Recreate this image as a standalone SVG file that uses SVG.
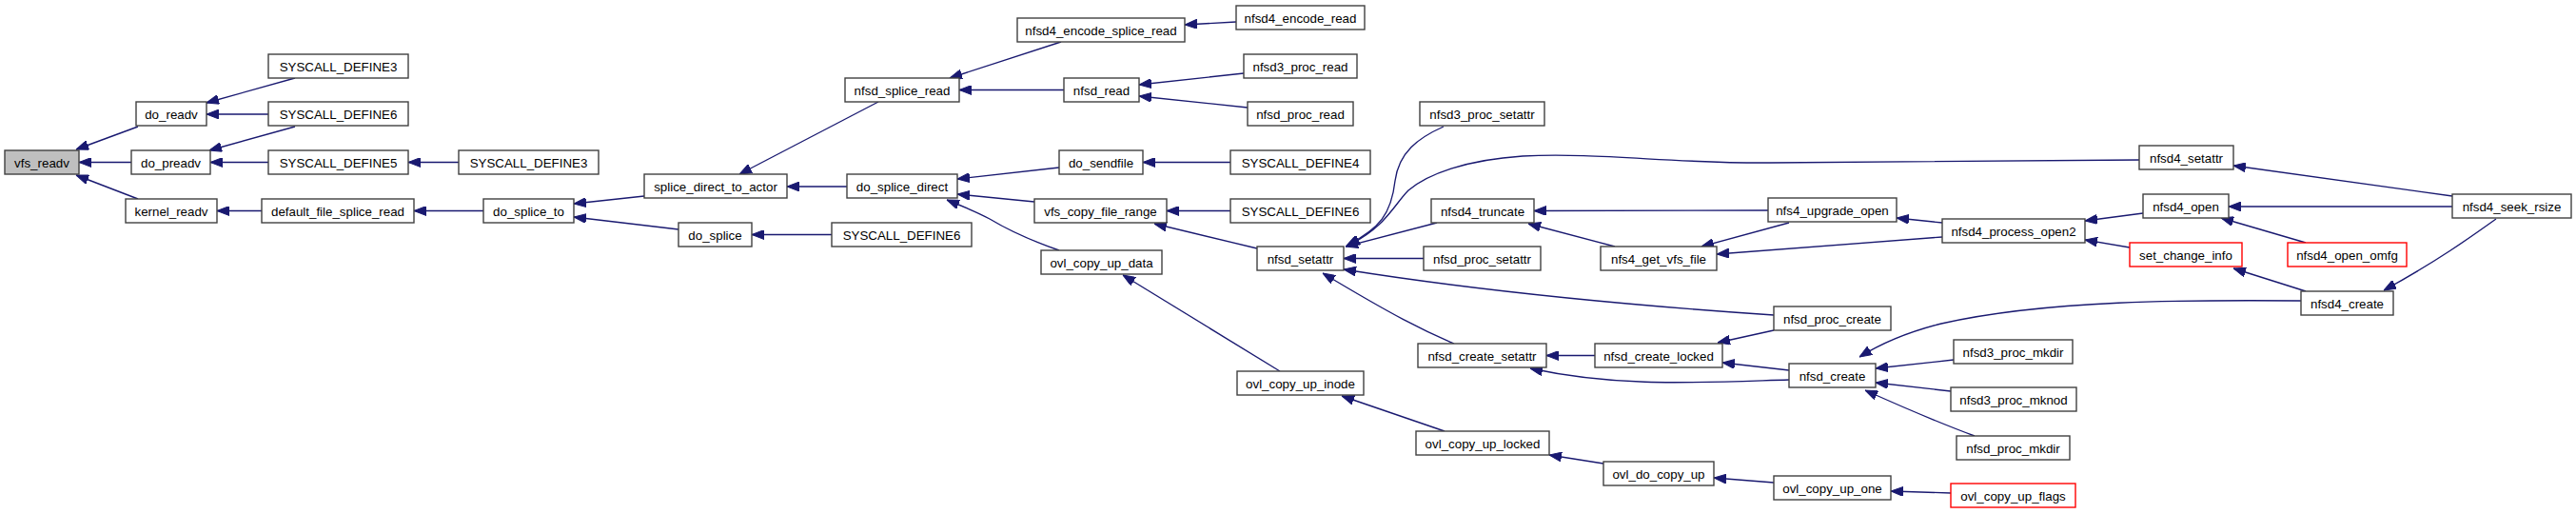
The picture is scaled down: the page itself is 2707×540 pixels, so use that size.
<svg xmlns="http://www.w3.org/2000/svg" width="2707" height="540" viewBox="0 0 2707 540">
<style>
.n rect{fill:#ffffff;stroke:#404040;stroke-width:1.4}
.n.root rect{fill:#bfbfbf}
.n.red rect{stroke:#ff0000}
.n text{font-family:"Liberation Sans",Arial,sans-serif;font-size:13.33px;fill:#000;text-anchor:middle}
#edges path{fill:none;stroke:#191970;stroke-width:1.35;marker-end:url(#ah)}
</style>
<defs>
<marker id="ah" viewBox="0 0 13 10" refX="13" refY="5" markerWidth="13" markerHeight="10" markerUnits="userSpaceOnUse" orient="auto">
<path d="M0,0 L13,5 L0,10 Z" fill="#191970" stroke="#191970" stroke-width="1"/>
</marker>
</defs>
<rect width="2707" height="540" fill="#ffffff"/>
<g id="edges">
<path d="M145,133 L80,157"/>
<path d="M138,170.5 L83,170.5"/>
<path d="M145,209 L80,184"/>
<path d="M310,82 L217,108"/>
<path d="M282,120 L217,120"/>
<path d="M310,133 L220,158"/>
<path d="M282,170.5 L221,170.5"/>
<path d="M275,221.5 L228,221.5"/>
<path d="M482,170.5 L429,170.5"/>
<path d="M508,221.5 L435,221.5"/>
<path d="M677,206 L603,214"/>
<path d="M713,241 L603,228"/>
<path d="M923,107 L777,183"/>
<path d="M890,196 L827,196"/>
<path d="M874,246.5 L790,246.5"/>
<path d="M1115,44 L998,82"/>
<path d="M1118,94.5 L1008,94.5"/>
<path d="M1299,23 L1245,26"/>
<path d="M1307,77 L1197,89"/>
<path d="M1311,113 L1197,101"/>
<path d="M1113,176 L1006,188"/>
<path d="M1087,212 L1006,204"/>
<path d="M1113,263 C1090,255 1065,245 1040,230 C1025,222 1010,216 995,210"/>
<path d="M1293,170.5 L1201,170.5"/>
<path d="M1293,221.5 L1226,221.5"/>
<path d="M1321,261 L1213,235"/>
<path d="M1345,390 L1180,289"/>
<path d="M1517,133 C1490,145 1470,160 1466,190 C1462,225 1450,240 1415,258"/>
<path d="M2248,168 L1860,171 C1760,172 1680,160 1600,164 C1540,168 1500,183 1480,200 C1465,215 1455,240 1416,258"/>
<path d="M1510,234 L1414,259"/>
<path d="M1496,271.5 L1412,271.5"/>
<path d="M1864,331 C1700,320 1550,305 1412,283"/>
<path d="M1528,361 C1495,347 1465,332 1390,287"/>
<path d="M1518,453 L1410,416"/>
<path d="M1685,487 L1628,478"/>
<path d="M1864,507 L1801,502"/>
<path d="M2050,518 L1987,516"/>
<path d="M1858,221 L1612,221.5"/>
<path d="M1697,259 L1606,235"/>
<path d="M1880,234 L1788,259"/>
<path d="M2041,249 L1804,267"/>
<path d="M2041,234 L1993,229"/>
<path d="M1676,373.5 L1625,373.5"/>
<path d="M1864,347 L1805,360"/>
<path d="M1880,389 L1810,381"/>
<path d="M1880,399 C1780,402 1700,407 1608,387"/>
<path d="M2053,378 L1971,387"/>
<path d="M2050,411 L1971,402"/>
<path d="M2075,458 C2040,445 2000,428 1960,410"/>
<path d="M2418,316 C2300,315 2150,315 2040,340 C2000,350 1975,362 1954,375"/>
<path d="M2423,306 L2347,282"/>
<path d="M2623,230 C2595,250 2560,275 2505,305"/>
<path d="M2577,217 L2342,217"/>
<path d="M2577,206 L2347,174"/>
<path d="M2423,255 L2334,229"/>
<path d="M2252,224 L2191,232"/>
<path d="M2238,260 L2191,252"/>
</g>
<g id="n_vfs_readv" class="n root"><rect x="5" y="158" width="78" height="25"/><text x="44" y="175.5">vfs_readv</text></g>
<g id="n_do_readv" class="n"><rect x="143" y="107" width="74" height="25"/><text x="180" y="124.5">do_readv</text></g>
<g id="n_do_preadv" class="n"><rect x="138" y="158" width="83" height="25"/><text x="179.5" y="175.5">do_preadv</text></g>
<g id="n_kernel_readv" class="n"><rect x="132" y="209" width="96" height="25"/><text x="180" y="226.5">kernel_readv</text></g>
<g id="n_sys3a" class="n"><rect x="282" y="57" width="147" height="25"/><text x="355.5" y="74.5">SYSCALL_DEFINE3</text></g>
<g id="n_sys6a" class="n"><rect x="282" y="107" width="147" height="25"/><text x="355.5" y="124.5">SYSCALL_DEFINE6</text></g>
<g id="n_sys5" class="n"><rect x="282" y="158" width="147" height="25"/><text x="355.5" y="175.5">SYSCALL_DEFINE5</text></g>
<g id="n_default_file_splice_read" class="n"><rect x="275" y="209" width="160" height="25"/><text x="355" y="226.5">default_file_splice_read</text></g>
<g id="n_sys3b" class="n"><rect x="482" y="158" width="147" height="25"/><text x="555.5" y="175.5">SYSCALL_DEFINE3</text></g>
<g id="n_do_splice_to" class="n"><rect x="508" y="209" width="95" height="25"/><text x="555.5" y="226.5">do_splice_to</text></g>
<g id="n_splice_direct_to_actor" class="n"><rect x="677" y="183" width="150" height="25"/><text x="752" y="200.5">splice_direct_to_actor</text></g>
<g id="n_do_splice" class="n"><rect x="713" y="234" width="77" height="25"/><text x="751.5" y="251.5">do_splice</text></g>
<g id="n_nfsd_splice_read" class="n"><rect x="888" y="82" width="120" height="25"/><text x="948" y="99.5">nfsd_splice_read</text></g>
<g id="n_do_splice_direct" class="n"><rect x="890" y="183" width="116" height="25"/><text x="948" y="200.5">do_splice_direct</text></g>
<g id="n_sys6b" class="n"><rect x="874" y="234" width="147" height="25"/><text x="947.5" y="251.5">SYSCALL_DEFINE6</text></g>
<g id="n_nfsd4_encode_splice_read" class="n"><rect x="1069" y="19" width="176" height="25"/><text x="1157" y="36.5">nfsd4_encode_splice_read</text></g>
<g id="n_nfsd_read" class="n"><rect x="1118" y="82" width="79" height="25"/><text x="1157.5" y="99.5">nfsd_read</text></g>
<g id="n_do_sendfile" class="n"><rect x="1113" y="158" width="88" height="25"/><text x="1157" y="175.5">do_sendfile</text></g>
<g id="n_vfs_copy_file_range" class="n"><rect x="1087" y="209" width="139" height="25"/><text x="1156.5" y="226.5">vfs_copy_file_range</text></g>
<g id="n_ovl_copy_up_data" class="n"><rect x="1094" y="263" width="127" height="25"/><text x="1157.5" y="280.5">ovl_copy_up_data</text></g>
<g id="n_nfsd4_encode_read" class="n"><rect x="1299" y="6" width="135" height="25"/><text x="1366.5" y="23.5">nfsd4_encode_read</text></g>
<g id="n_nfsd3_proc_read" class="n"><rect x="1307" y="57" width="119" height="25"/><text x="1366.5" y="74.5">nfsd3_proc_read</text></g>
<g id="n_nfsd_proc_read" class="n"><rect x="1311" y="107" width="111" height="25"/><text x="1366.5" y="124.5">nfsd_proc_read</text></g>
<g id="n_sys4" class="n"><rect x="1293" y="158" width="147" height="25"/><text x="1366.5" y="175.5">SYSCALL_DEFINE4</text></g>
<g id="n_sys6c" class="n"><rect x="1293" y="209" width="147" height="25"/><text x="1366.5" y="226.5">SYSCALL_DEFINE6</text></g>
<g id="n_nfsd_setattr" class="n"><rect x="1321" y="259" width="91" height="25"/><text x="1366.5" y="276.5">nfsd_setattr</text></g>
<g id="n_ovl_copy_up_inode" class="n"><rect x="1300" y="390" width="133" height="25"/><text x="1366.5" y="407.5">ovl_copy_up_inode</text></g>
<g id="n_nfsd3_proc_setattr" class="n"><rect x="1492" y="107" width="131" height="25"/><text x="1557.5" y="124.5">nfsd3_proc_setattr</text></g>
<g id="n_nfsd4_truncate" class="n"><rect x="1504" y="209" width="108" height="25"/><text x="1558" y="226.5">nfsd4_truncate</text></g>
<g id="n_nfsd_proc_setattr" class="n"><rect x="1496" y="259" width="123" height="25"/><text x="1557.5" y="276.5">nfsd_proc_setattr</text></g>
<g id="n_nfsd_create_setattr" class="n"><rect x="1490" y="361" width="135" height="25"/><text x="1557.5" y="378.5">nfsd_create_setattr</text></g>
<g id="n_ovl_copy_up_locked" class="n"><rect x="1488" y="453" width="140" height="25"/><text x="1558" y="470.5">ovl_copy_up_locked</text></g>
<g id="n_nfs4_get_vfs_file" class="n"><rect x="1682" y="259" width="122" height="25"/><text x="1743" y="276.5">nfs4_get_vfs_file</text></g>
<g id="n_nfsd_create_locked" class="n"><rect x="1676" y="361" width="134" height="25"/><text x="1743" y="378.5">nfsd_create_locked</text></g>
<g id="n_ovl_do_copy_up" class="n"><rect x="1685" y="485" width="116" height="25"/><text x="1743" y="502.5">ovl_do_copy_up</text></g>
<g id="n_nfs4_upgrade_open" class="n"><rect x="1858" y="208" width="135" height="25"/><text x="1925.5" y="225.5">nfs4_upgrade_open</text></g>
<g id="n_nfsd_proc_create" class="n"><rect x="1864" y="322" width="123" height="25"/><text x="1925.5" y="339.5">nfsd_proc_create</text></g>
<g id="n_nfsd_create" class="n"><rect x="1880" y="382" width="91" height="25"/><text x="1925.5" y="399.5">nfsd_create</text></g>
<g id="n_ovl_copy_up_one" class="n"><rect x="1864" y="500" width="123" height="25"/><text x="1925.5" y="517.5">ovl_copy_up_one</text></g>
<g id="n_nfsd4_process_open2" class="n"><rect x="2041" y="230" width="150" height="25"/><text x="2116" y="247.5">nfsd4_process_open2</text></g>
<g id="n_nfsd3_proc_mkdir" class="n"><rect x="2053" y="357" width="125" height="25"/><text x="2115.5" y="374.5">nfsd3_proc_mkdir</text></g>
<g id="n_nfsd3_proc_mknod" class="n"><rect x="2050" y="407" width="132" height="25"/><text x="2116" y="424.5">nfsd3_proc_mknod</text></g>
<g id="n_nfsd_proc_mkdir" class="n"><rect x="2056" y="458" width="119" height="25"/><text x="2115.5" y="475.5">nfsd_proc_mkdir</text></g>
<g id="n_ovl_copy_up_flags" class="n red"><rect x="2050" y="508" width="131" height="25"/><text x="2115.5" y="525.5">ovl_copy_up_flags</text></g>
<g id="n_nfsd4_setattr" class="n"><rect x="2248" y="153" width="99" height="25"/><text x="2297.5" y="170.5">nfsd4_setattr</text></g>
<g id="n_nfsd4_open" class="n"><rect x="2252" y="204" width="90" height="25"/><text x="2297" y="221.5">nfsd4_open</text></g>
<g id="n_set_change_info" class="n red"><rect x="2238" y="255" width="118" height="25"/><text x="2297" y="272.5">set_change_info</text></g>
<g id="n_nfsd4_open_omfg" class="n red"><rect x="2404" y="255" width="125" height="25"/><text x="2466.5" y="272.5">nfsd4_open_omfg</text></g>
<g id="n_nfsd4_create" class="n"><rect x="2418" y="306" width="97" height="25"/><text x="2466.5" y="323.5">nfsd4_create</text></g>
<g id="n_nfsd4_seek_rsize" class="n"><rect x="2577" y="204" width="125" height="25"/><text x="2639.5" y="221.5">nfsd4_seek_rsize</text></g>
</svg>
